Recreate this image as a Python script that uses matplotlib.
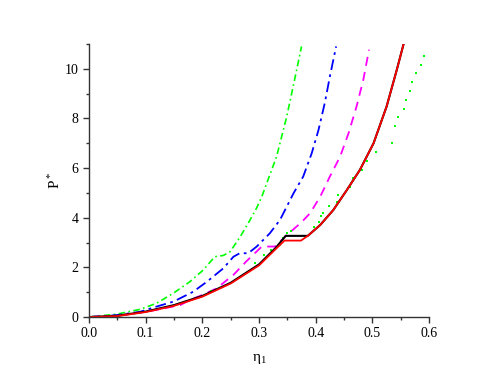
import matplotlib.pyplot as plt
from matplotlib.ticker import MultipleLocator

# -----------------------------
# Data
# -----------------------------
BLACK_ETA = [0, 0.05, 0.10, 0.15, 0.20, 0.25, 0.30, 0.33, 0.347, 0.386, 0.408,
             0.431, 0.455, 0.478, 0.502, 0.525, 0.543, 0.555]
BLACK_P = [0, 0.05, 0.22, 0.48, 0.85, 1.38, 2.12, 2.80, 3.27, 3.27, 3.71,
           4.31, 5.12, 5.93, 7.00, 8.48, 9.96, 11.0]

RED_ETA = [0, 0.05, 0.10, 0.15, 0.20, 0.25, 0.30, 0.33, 0.345, 0.374, 0.386,
           0.408, 0.431, 0.455, 0.478, 0.502, 0.525, 0.543, 0.555]
RED_P = [0, 0.04, 0.20, 0.45, 0.82, 1.35, 2.08, 2.75, 3.08, 3.08, 3.27,
         3.71, 4.31, 5.12, 5.93, 7.00, 8.48, 9.96, 11.0]

GREEN_DD_ETA = [0, 0.05, 0.09, 0.119, 0.149, 0.178, 0.202, 0.222, 0.237, 0.249,
                0.266, 0.284, 0.296, 0.305, 0.313, 0.331, 0.349, 0.364, 0.375]
GREEN_DD_P = [0, 0.12, 0.31, 0.55, 0.96, 1.42, 1.90, 2.43, 2.48, 2.63,
              3.20, 3.90, 4.40, 4.85, 5.35, 6.46, 8.08, 9.69, 10.9]

BLUE_ETA = [0, 0.05, 0.09, 0.119, 0.149, 0.184, 0.208, 0.237, 0.255, 0.266,
            0.281, 0.296, 0.319, 0.337, 0.361, 0.378, 0.393, 0.405, 0.416,
            0.425, 0.436]
BLUE_P = [0, 0.08, 0.21, 0.42, 0.62, 1.02, 1.42, 1.96, 2.43, 2.57,
          2.57, 2.84, 3.37, 3.91, 4.99, 5.66, 6.60, 7.54, 8.62,
          9.69, 10.9]

MAGENTA_ETA = [0, 0.05, 0.11, 0.161, 0.181, 0.196, 0.225, 0.255, 0.278, 0.305,
               0.328, 0.349, 0.375, 0.39, 0.408, 0.425, 0.443, 0.458, 0.472,
               0.484, 0.494]
MAGENTA_P = [0, 0.06, 0.25, 0.48, 0.72, 0.85, 1.15, 1.70, 2.25, 2.84,
             2.84, 3.30, 3.82, 4.18, 4.85, 5.66, 6.46, 7.41, 8.48,
             9.56, 10.77]

DOTS_ETA = [0.216, 0.293, 0.308, 0.321, 0.337, 0.342, 0.350, 0.356, 0.397,
            0.405, 0.409, 0.413, 0.424, 0.438, 0.440, 0.461, 0.465, 0.482,
            0.491, 0.506, 0.534, 0.539, 0.545, 0.555, 0.559, 0.566, 0.569,
            0.577, 0.585, 0.591]
DOTS_P = [1.04, 2.18, 2.49, 2.70, 2.90, 3.17, 3.37, 3.48, 3.64,
          3.84, 4.07, 4.18, 4.49, 4.64, 4.91, 5.24, 5.62, 5.94,
          6.30, 6.65, 7.00, 7.70, 8.04, 8.39, 8.75, 9.11, 9.46,
          9.83, 10.16, 10.51]

# -----------------------------
# Style
# -----------------------------
plt.rcParams.update({
    "font.family": "Liberation Serif",
    "font.size": 10,
    "axes.linewidth": 1.0,
    "axes.edgecolor": "#333333",
})

fig = plt.figure(figsize=(4.99, 3.82), dpi=100)
ax = fig.add_axes([0.178, 0.170, 0.682, 0.715])

ax.plot(GREEN_DD_ETA, GREEN_DD_P, color="#00FF00", lw=1.2,
        linestyle=(0, (4, 2, 1, 2)))
ax.plot(BLUE_ETA, BLUE_P, color="#0000FF", lw=1.3,
        linestyle=(0, (6, 2.5, 1.5, 2.5)))
ax.plot(MAGENTA_ETA, MAGENTA_P, color="#FF00FF", lw=1.3,
        linestyle=(0, (5, 3.5)))
ax.plot(DOTS_ETA, DOTS_P, linestyle="none", marker="s", markersize=1.8,
        color="#00FF00", markeredgewidth=0)
ax.plot(BLACK_ETA, BLACK_P, color="black", lw=1.5)
ax.plot(RED_ETA, RED_P, color="#FF0000", lw=1.3)

# Axes
ax.set_xlim(0, 0.6)
ax.set_ylim(0, 11)
ax.xaxis.set_major_locator(MultipleLocator(0.1))
ax.xaxis.set_minor_locator(MultipleLocator(0.05))
ax.yaxis.set_major_locator(MultipleLocator(2))
ax.yaxis.set_minor_locator(MultipleLocator(1))
ax.xaxis.set_major_formatter(plt.FormatStrFormatter("%.1f"))
ax.tick_params(which="major", direction="out", length=4, width=1.0,
               colors="#333333", labelcolor="black")
ax.tick_params(which="minor", direction="out", length=2.5, width=1.0,
               colors="#333333")

ax.spines["top"].set_visible(False)
ax.spines["right"].set_visible(False)

ax.set_xlabel(r"$\mathregular{\eta_1}$", fontsize=11, labelpad=8)
ax.set_ylabel(r"$\mathregular{P^*}$", fontsize=11, labelpad=1)

fig.savefig("out.png", dpi=100)
